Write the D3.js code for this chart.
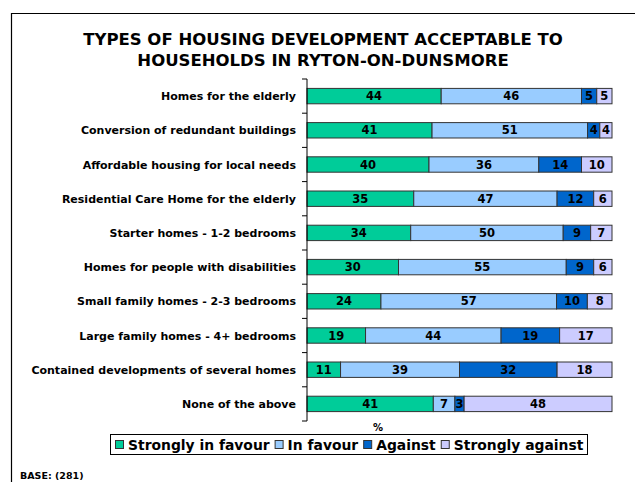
<!DOCTYPE html>
<html>
<head>
<meta charset="utf-8">
<script src="https://cdn.jsdelivr.net/npm/d3@7"></script>
<style>
  body { margin: 0; background: #fff; }
  svg { display: block; font-family: "DejaVu Sans", Verdana, sans-serif; }
</style>
</head>
<body>
<svg id="chart" width="635" height="482"></svg>
<script>
// categories, top to bottom
const categories = [
  "Homes for the elderly",
  "Conversion of redundant buildings",
  "Affordable housing for local needs",
  "Residential Care Home for the elderly",
  "Starter homes - 1-2 bedrooms",
  "Homes for people with disabilities",
  "Small family homes - 2-3 bedrooms",
  "Large family homes - 4+ bedrooms",
  "Contained developments of several homes",
  "None of the above"
];
const seriesNames = ["Strongly in favour", "In favour", "Against", "Strongly against"];
const seriesColors = ["#00cc99", "#99ccff", "#0066cc", "#ccccff"];

const stronglyFavour = [44, 41, 40, 35, 34, 30, 24, 19, 11, 41];
const inFavour       = [46, 51, 36, 47, 50, 55, 57, 44, 39, 7];
const against        = [5, 4, 14, 12, 9, 9, 10, 19, 32, 3];
const stronglyAgainst = [5, 4, 10, 6, 7, 6, 8, 17, 18, 48];

const svg = d3.select("#chart");

// 外框
svg.append("path")
    .attr("d", "M11.5,482 L11.5,13.5 L640,13.5")
    .attr("fill", "none")
    .attr("stroke", "#000")
    .attr("stroke-width", 1.2);

// 標題
const title = svg.append("text")
    .attr("text-anchor", "middle")
    .attr("font-weight", "bold")
    .attr("font-size", "16.5px");
title.append("tspan").attr("x", 323).attr("y", 45).text("TYPES OF HOUSING DEVELOPMENT ACCEPTABLE TO");
title.append("tspan").attr("x", 323).attr("y", 66).text("HOUSEHOLDS IN RYTON-ON-DUNSMORE");

// 每列都畫成 100%（同原圖）
const x = d3.scaleLinear().domain([0, 1]).range([307, 612]);
const y = d3.scaleBand().domain(categories).range([79, 421]).paddingInner(0.55).paddingOuter(0.275);

const rows = categories.map((c, i) => ({
  cat: c,
  vals: [stronglyFavour[i], inFavour[i], against[i], stronglyAgainst[i]]
}));

const stack = d3.stack().keys([0, 1, 2, 3]).value((d, k) => d.vals[k]).offset(d3.stackOffsetExpand);
const series = stack(rows);

const g = svg.append("g");
series.forEach((s, k) => {
  g.selectAll(null)
    .data(s)
    .join("rect")
    .attr("x", d => x(d[0]))
    .attr("y", d => y(d.data.cat))
    .attr("width", d => x(d[1]) - x(d[0]))
    .attr("height", y.bandwidth())
    .attr("fill", seriesColors[k])
    .attr("stroke", "#333")
    .attr("stroke-width", 1);

  g.selectAll(null)
    .data(s)
    .join("text")
    .attr("x", d => (x(d[0]) + x(d[1])) / 2)
    .attr("y", d => y(d.data.cat) + y.bandwidth() / 2 + 4)
    .attr("text-anchor", "middle")
    .attr("font-size", "11.5px")
    .attr("font-weight", "bold")
    .attr("fill", "#000")
    .text(d => d.data.vals[k]);
});

// y軸
const step = y.step();
svg.append("line")
    .attr("x1", 307).attr("x2", 307)
    .attr("y1", 79).attr("y2", 421)
    .attr("stroke", "#000");
d3.range(categories.length + 1).forEach(i => {
  const ty = 79 + i * step;
  svg.append("line")
      .attr("x1", 302).attr("x2", 307)
      .attr("y1", ty).attr("y2", ty)
      .attr("stroke", "#000");
});

svg.append("g").selectAll("text")
    .data(categories)
    .join("text")
    .attr("x", 296)
    .attr("y", d => y(d) + y.bandwidth() / 2 + 4)
    .attr("text-anchor", "end")
    .attr("font-size", "11px")
    .attr("font-weight", "bold")
    .text(d => d);

// x軸標題
svg.append("text")
    .attr("x", 378).attr("y", 431)
    .attr("text-anchor", "middle")
    .attr("font-size", "10px")
    .attr("font-weight", "bold")
    .text("%");

// 圖例
const legend = svg.append("g");
legend.append("rect")
    .attr("x", 110.5).attr("y", 434.5)
    .attr("width", 477).attr("height", 20)
    .attr("fill", "#fff").attr("stroke", "#000");
const texts = seriesNames.map(name => legend.append("text")
    .attr("y", 450)
    .attr("font-size", "14px")
    .attr("font-weight", "bold")
    .text(name));
// 字寬對齊框寬
const avail = 477 - 8 - seriesNames.length * 13 - (seriesNames.length - 1) * 5;
const total = d3.sum(texts, t => t.node().getComputedTextLength());
const fs = Math.min(14.5, 14 * avail / total);
let lx = 115;
texts.forEach((t, k) => {
  t.attr("font-size", fs + "px");
  legend.append("rect")
      .attr("x", lx + 0.5).attr("y", 440.5)
      .attr("width", 8).attr("height", 8)
      .attr("fill", seriesColors[k]).attr("stroke", "#333");
  t.attr("x", lx + 13);
  lx += 13 + t.node().getComputedTextLength() + 5;
});

svg.append("text")
    .attr("x", 20).attr("y", 479)
    .attr("font-size", "9.5px")
    .attr("font-weight", "bold")
    .text("BASE: (281)");
</script>
</body>
</html>
